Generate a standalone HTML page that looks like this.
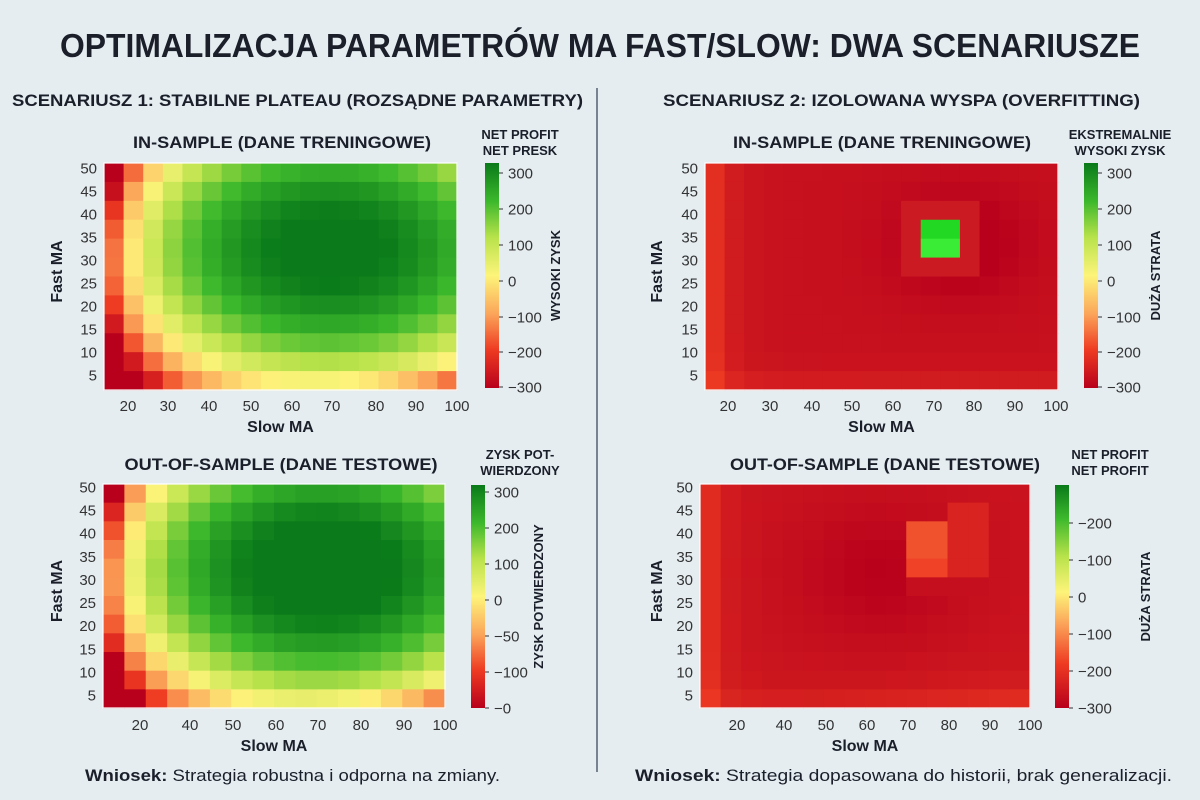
<!DOCTYPE html>
<html><head><meta charset="utf-8">
<style>
html,body{margin:0;padding:0;background:#e5edf1;}
svg{display:block;font-family:"Liberation Sans","DejaVu Sans",sans-serif;}
</style></head>
<body>
<svg id="s" width="1200" height="800" viewBox="0 0 1200 800" xmlns="http://www.w3.org/2000/svg">
<defs>
<linearGradient id="cb1" x1="0" y1="1" x2="0" y2="0">
<stop offset="0" stop-color="#b8001c"/><stop offset="0.17" stop-color="#ee3b22"/><stop offset="0.33" stop-color="#fba55a"/><stop offset="0.5" stop-color="#fdf47a"/><stop offset="0.67" stop-color="#b8e24a"/><stop offset="0.83" stop-color="#3cb82c"/><stop offset="1" stop-color="#0a7a1a"/>
</linearGradient>
<linearGradient id="cb2" x1="0" y1="1" x2="0" y2="0"><stop offset="0" stop-color="#b8001c"/><stop offset="0.2" stop-color="#ee3b22"/><stop offset="0.38" stop-color="#fba55a"/><stop offset="0.52" stop-color="#fdf47a"/><stop offset="0.68" stop-color="#b8e24a"/><stop offset="0.85" stop-color="#3cb82c"/><stop offset="1" stop-color="#0a7a1a"/></linearGradient>
</defs>
<rect width="1200" height="800" fill="#e5edf1"/>
<text x="600" y="57" text-anchor="middle" font-size="33" font-weight="bold" fill="#1b1f2a" textLength="1080" lengthAdjust="spacingAndGlyphs">OPTIMALIZACJA PARAMETRÓW MA FAST/SLOW: DWA SCENARIUSZE</text>
<text x="12" y="106" font-size="17" font-weight="bold" fill="#1b1f2a" textLength="571" lengthAdjust="spacingAndGlyphs">SCENARIUSZ 1: STABILNE PLATEAU (ROZSĄDNE PARAMETRY)</text>
<text x="663" y="106" font-size="17" font-weight="bold" fill="#1b1f2a" textLength="477" lengthAdjust="spacingAndGlyphs">SCENARIUSZ 2: IZOLOWANA WYSPA (OVERFITTING)</text>
<line x1="597" y1="88" x2="597" y2="772" stroke="#556070" stroke-width="1.5"/>
<g id="g"></g>
<text x="85" y="781" font-size="17" fill="#1b1f2a" textLength="415" lengthAdjust="spacingAndGlyphs"><tspan font-weight="bold">Wniosek:</tspan> Strategia robustna i odporna na zmiany.</text>
<text x="635" y="781" font-size="17" fill="#1b1f2a" textLength="537" lengthAdjust="spacingAndGlyphs"><tspan font-weight="bold">Wniosek:</tspan> Strategia dopasowana do historii, brak generalizacji.</text>
</svg>
<script>
var NS="http://www.w3.org/2000/svg",G=document.getElementById('g');
function el(t,a,txt){var e=document.createElementNS(NS,t);for(var k in a)e.setAttribute(k,a[k]);if(txt!=null)e.textContent=txt;G.appendChild(e);return e;}
var stops=[[-300,[184,0,28]],[-200,[238,59,34]],[-100,[251,165,90]],[0,[253,244,122]],[100,[184,226,74]],[200,[60,184,44]],[300,[10,122,26]]];
function col(v){v=Math.max(-300,Math.min(300,v));for(var i=0;i<stops.length-1;i++){var a=stops[i],b=stops[i+1];if(v<=b[0]){var t=(v-a[0])/(b[0]-a[0]);var c=a[1].map(function(x,j){return Math.round(x+(b[1][j]-x)*t)});return 'rgb('+c.join(',')+')';}}return 'rgb(10,122,26)';}
function s1(u,w,k){
 var d=Math.pow((u-0.64)/0.9,2)+Math.pow((w-0.62)/0.9,2);
 var v=320-700*d-200*Math.exp(-u/0.07)-200*Math.exp(-w/0.05)*u*u*u;
 v-=220*Math.exp(-u/0.06)*Math.pow(Math.abs(w-0.5)*2,2);
 v-=120*Math.exp(-w/0.05)*Math.exp(-u/0.1);
 return v+k;}
function s2a(u,w){
 var v=-272-40*Math.exp(-(Math.pow((u-0.72)/0.2,2)+Math.pow((w-0.65)/0.25,2)))+90*Math.exp(-u/0.05)+40*Math.exp(-w/0.05);
 return col(v);}
function heat(x0,y0,x1,y1,nc,nr,f){
 var cw=(x1-x0)/nc,rh=(y1-y0)/nr;
 for(var i=0;i<nc;i++)for(var j=0;j<nr;j++){
  var u=(i+0.5)/nc,w=1-(j+0.5)/nr;
  el('rect',{x:(x0+i*cw).toFixed(2),y:(y0+j*rh).toFixed(2),width:(cw+0.6).toFixed(2),height:(rh+0.6).toFixed(2),fill:f(u,w,i,j)});
 }
 el('rect',{x:x0,y:y0,width:x1-x0,height:y1-y0,fill:'none',stroke:'#ffffff','stroke-width':1.2});
}
function axes(x0,x1,y0,ticksX,yTop,yBot,xlabY,ylabX,title,titleX,titleY,titleW){
 el('text',{x:titleX,y:titleY,'text-anchor':'middle','font-size':17,'font-weight':'bold',fill:'#1b1f2a',textLength:titleW,lengthAdjust:'spacingAndGlyphs'},title);
 var ys=[50,45,40,35,30,25,20,15,10,5];
 for(var i=0;i<10;i++){el('text',{x:x0-7,y:(yTop+i*(yBot-yTop)/9+5.5).toFixed(1),'text-anchor':'end','font-size':15,fill:'#333'},ys[i]);}
 ticksX.forEach(function(t){el('text',{x:t[1],y:xlabY,'text-anchor':'middle','font-size':15,fill:'#333'},t[0]);});
 el('text',{x:(x0+x1)/2,y:xlabY+21,'text-anchor':'middle','font-size':16,'font-weight':'bold',fill:'#1b1f2a'},'Slow MA');
 var cy=(yTop+yBot)/2;
 el('text',{x:ylabX,y:cy,'text-anchor':'middle','font-size':16,'font-weight':'bold',fill:'#1b1f2a',transform:'rotate(-90 '+ylabX+' '+cy+')'},'Fast MA');
}
function cbar(x,y0,y1,grad,labels,hx,hy,h1,h2,rx,rot){
 el('rect',{x:x,y:y0,width:14,height:y1-y0,fill:'url(#'+grad+')'});
 labels.forEach(function(l){el('line',{x1:x+14,y1:l[1],x2:x+18,y2:l[1],stroke:'#333'});el('text',{x:x+23,y:l[1]+5.5,'font-size':15,fill:'#333'},l[0]);});
 el('text',{x:hx,y:hy,'text-anchor':'middle','font-size':13,'font-weight':'bold',fill:'#1b1f2a'},h1);
 el('text',{x:hx,y:hy+16,'text-anchor':'middle','font-size':13,'font-weight':'bold',fill:'#1b1f2a'},h2);
 var cy=(y0+y1)/2;
 el('text',{x:rx,y:cy,'text-anchor':'middle','font-size':13,'font-weight':'bold',fill:'#1b1f2a',transform:'rotate(-90 '+rx+' '+cy+')'},rot);
}

// Top-left
heat(104,163,457,390,18,12,function(u,w){return col(s1(u,w,0));});
axes(104,457,163,[[20,128],[30,168],[40,209],[50,251],[60,292],[70,332],[80,376],[90,416],[100,457]],168,375,411,62,'IN-SAMPLE (DANE TRENINGOWE)',282,148,298);
cbar(485,163,388,'cb1',[[300,173],[200,209],[100,245],[0,281],['\u2212100',317],['\u2212200',352],['\u2212300',387]],520,139,'NET PROFIT','NET PRESK',560,'WYSOKI ZYSK');

// Bottom-left
heat(103,484,445,708,16,12,function(u,w){return col(s1(u,w,20));});
axes(103,445,484,[[20,140],[40,190],[50,233],[60,276],[70,318],[80,361],[90,404],[100,445]],487,695,730,62,'OUT-OF-SAMPLE (DANE TESTOWE)',281,470,313);
cbar(471,485,708,'cb1',[[300,492],[200,528],[100,564],[0,600],['\u221250',636],['\u2212100',672],['\u22120',708]],520,459,'ZYSK POT-','WIERDZONY',543,'ZYSK POTWIERDZONY');

// Top-right
heat(705,163,1058,390,18,12,function(u,w,i,j){
 if((i==11||i==12)&&(j==3||j==4))return j==3?'#22d822':'#3aec36';
 if((i>=10&&i<=13)&&(j>=2&&j<=5)) return '#cc1a22';
 return s2a(u,w);});
axes(705,1058,163,[[20,728],[30,770],[40,812],[50,852],[60,893],[70,934],[80,974],[90,1015],[100,1056]],168,375,411,662,'IN-SAMPLE (DANE TRENINGOWE)',882,148,298);
cbar(1084,163,388,'cb1',[[300,173],[200,209],[100,245],[0,281],['\u2212100',317],['\u2212200',352],['\u2212300',387]],1120,139,'EKSTREMALNIE','WYSOKI ZYSK',1160,'DUŻA STRATA');

// Bottom-right
heat(700,484,1030,708,16,12,function(u,w,i,j){
 var v=-268-30*Math.exp(-(Math.pow((u-0.55)/0.25,2)+Math.pow((w-0.6)/0.3,2)))+80*Math.exp(-u/0.05)+35*Math.exp(-w/0.06)+40*u*u*Math.exp(-w/0.1);
 if((i==10||i==11)&&(j>=2&&j<=4)) v=-178+(j==4?-15:0);
 if((i==12||i==13)&&(j>=1&&j<=4)) v=-240;
 if(i>=10&&i<=13&&j==5) v=-275;
 return col(v);});
axes(700,1030,484,[[20,737],[40,784],[50,826],[60,867],[70,908],[80,949],[90,990],[100,1030]],487,695,730,662,'OUT-OF-SAMPLE (DANE TESTOWE)',885,470,310);
cbar(1055,485,708,'cb2',[['\u2212200',523],['\u2212100',560],['0',597],['\u2212100',634],['\u2212200',671],['\u2212300',708]],1110,459,'NET PROFIT','NET PROFIT',1150,'DUŻA STRATA');
</script>
</body></html>
